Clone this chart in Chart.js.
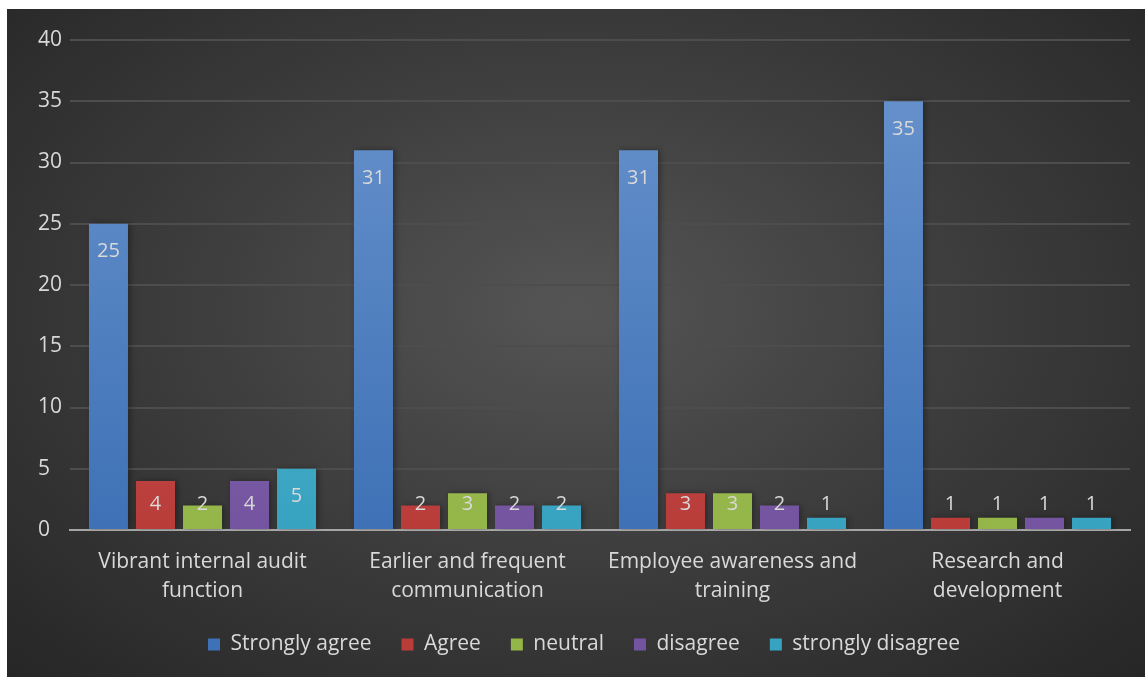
<!DOCTYPE html>
<html>
<head>
<meta charset="utf-8">
<script src="https://cdn.jsdelivr.net/npm/chart.js@4"></script>
<style>
  html, body { margin: 0; padding: 0; background: #ffffff; }
  #wrap {
    position: absolute; left: 7px; top: 9px; width: 1138px; height: 668px;
    background: radial-gradient(ellipse at 50% 45%, #555555 0%, #3c3c3c 50%, #262626 100%);
  }
</style>
</head>
<body>
<div id="wrap"><canvas id="chart"></canvas></div>
<script>
// หมวดหมู่และค่าของแต่ละชุดข้อมูล
const categories = [
    ['Vibrant internal audit', 'function'],
    ['Earlier and frequent', 'communication'],
    ['Employee awareness and', 'training'],
    ['Research and', 'development']
];
const seriesNames = ['Strongly agree', 'Agree', 'neutral', 'disagree', 'strongly disagree'];
const stronglyAgree = [25, 31, 31, 35];
const agree = [4, 2, 3, 1];
const neutral = [2, 3, 3, 1];
const disagree = [4, 2, 2, 1];
const stronglyDisagree = [5, 2, 1, 1];
const yTicks = [0, 5, 10, 15, 20, 25, 30, 35, 40];

const FONT = "'Open Sans', sans-serif";
const TEXT = '#d9d9d9';

// สีบน / ล่าง ของแต่ละชุด (ไล่เฉดแนวตั้ง)
const colorPairs = [
    ['#6a94cd', '#3e71b6'],
    ['#d06b69', '#b93c39'],
    ['#acc96e', '#94b548'],
    ['#9479b4', '#7454a0'],
    ['#66b8d0', '#37a3c1']
];

function barGradient(pair) {
    return function(context) {
        const chart = context.chart;
        const area = chart.chartArea;
        if (!area) return pair[1];
        const g = chart.ctx.createLinearGradient(0, area.top, 0, area.bottom);
        g.addColorStop(0, pair[0]);
        g.addColorStop(1, pair[1]);
        return g;
    };
}

const allSeries = [stronglyAgree, agree, neutral, disagree, stronglyDisagree];

// ป้ายค่าภายในปลายแท่ง (แท่งสั้นจะดันป้ายขึ้นเหนือฐาน)
const valueLabels = {
    id: 'valueLabels',
    afterDatasetsDraw(chart) {
        const ctx = chart.ctx;
        const base = chart.scales.y.getPixelForValue(0);
        ctx.save();
        ctx.font = '20px ' + FONT;
        ctx.fillStyle = TEXT;
        ctx.textAlign = 'center';
        ctx.textBaseline = 'middle';
        chart.data.datasets.forEach((ds, i) => {
            chart.getDatasetMeta(i).data.forEach((bar, j) => {
                const y = Math.min(bar.y + 28, base - 26);
                ctx.fillText(String(ds.data[j]), bar.x, y);
            });
        });
        ctx.restore();
    }
};

// เงาเบา ๆ ของแท่ง
const barShadow = {
    id: 'barShadow',
    beforeDatasetsDraw(chart) {
        chart.ctx.save();
        chart.ctx.shadowColor = 'rgba(0,0,0,0.35)';
        chart.ctx.shadowBlur = 6;
        chart.ctx.shadowOffsetX = 2;
    },
    afterDatasetsDraw(chart) {
        chart.ctx.restore();
    }
};

new Chart(document.getElementById('chart'), {
    type: 'bar',
    data: {
        labels: categories,
        datasets: allSeries.map((d, i) => ({
            label: seriesNames[i],
            data: d,
            backgroundColor: barGradient(colorPairs[i]),
            borderWidth: 0,
            categoryPercentage: 0.887,
            barPercentage: 0.83
        }))
    },
    options: {
        responsive: true,
        maintainAspectRatio: false,
        animation: false,
        layout: { padding: { top: 31, right: 15, left: 31, bottom: 12 } },
        plugins: {
            legend: {
                position: 'bottom',
                labels: {
                    color: TEXT,
                    font: { family: FONT, size: 21 },
                    boxWidth: 12,
                    boxHeight: 12,
                    padding: 30,
                    generateLabels(chart) {
                        return chart.data.datasets.map((ds, i) => ({
                            text: ds.label,
                            fillStyle: colorPairs[i][1],
                            strokeStyle: colorPairs[i][1],
                            lineWidth: 0,
                            fontColor: TEXT,
                            datasetIndex: i
                        }));
                    }
                }
            },
            tooltip: { enabled: false }
        },
        scales: {
            x: {
                afterFit(scale) { scale.height = 74; },
                grid: { display: false, drawTicks: false },
                border: { color: '#a6a6a6', width: 2 },
                ticks: {
                    color: TEXT,
                    font: { family: FONT, size: 21, lineHeight: 1.38 },
                    padding: 18,
                    maxRotation: 0
                }
            },
            y: {
                min: 0,
                max: 40,
                afterBuildTicks(scale) {
                    scale.ticks = yTicks.map(v => ({ value: v }));
                },
                afterFit(scale) { scale.width = 32; },
                grid: { color: '#4d4d4d', lineWidth: 2, drawTicks: false },
                border: { display: false },
                ticks: {
                    color: TEXT,
                    font: { family: FONT, size: 21 },
                    crossAlign: 'far'
                }
            }
        }
    },
    plugins: [barShadow, valueLabels]
});
</script>
</body>
</html>
